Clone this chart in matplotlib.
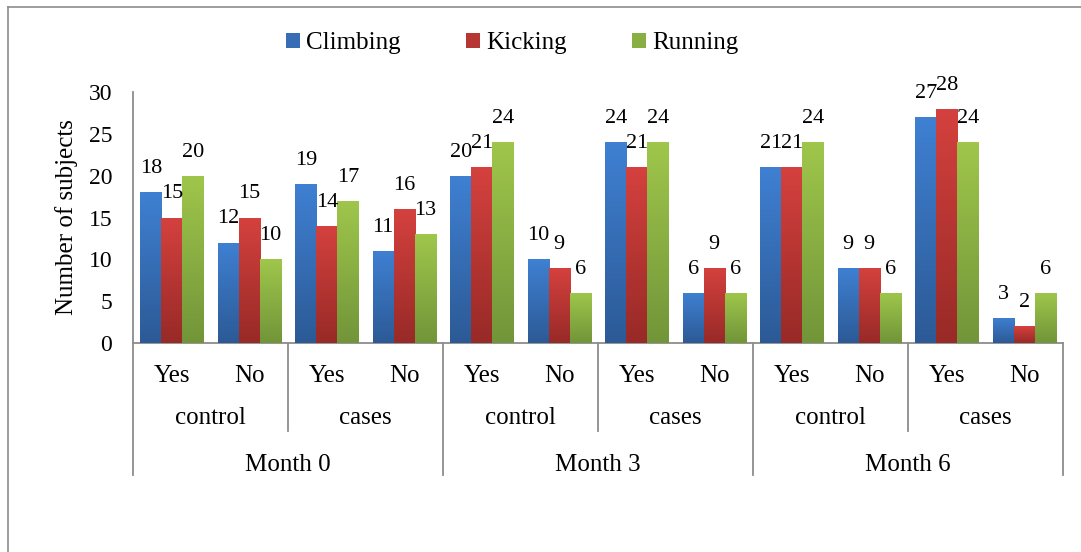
import matplotlib
matplotlib.use("Agg")
import matplotlib.pyplot as plt
import numpy as np
from matplotlib.colors import LinearSegmentedColormap
from matplotlib.patches import Patch
from matplotlib.lines import Line2D
import matplotlib.transforms as mtransforms

plt.rcParams['font.family'] = ['Liberation Serif', 'DejaVu Serif']

# data
answers = ["Yes", "No"] * 6
groups = ["control", "cases"] * 3
months = ["Month 0", "Month 3", "Month 6"]
series = ["Climbing", "Kicking", "Running"]
climbing = [18, 12, 19, 11, 20, 10, 24, 6, 21, 9, 27, 3]
kicking = [15, 15, 14, 16, 21, 9, 21, 9, 21, 9, 28, 2]
running = [20, 10, 17, 13, 24, 6, 24, 6, 24, 6, 24, 6]

# gradient colors (top, bottom)
grads = [("#3f80d2", "#2c5a96"), ("#d4413e", "#982a27"), ("#9fc64b", "#729539")]
axis_grey = "#8c8c8c"

fig = plt.figure(figsize=(10.81, 5.52), dpi=100)
W, H = 1081, 552
ax = fig.add_axes([133 / W, 1 - 343 / H, 930 / W, 251 / H])

bw = 0.271
x = np.arange(len(answers)) + 0.5
for k, vals in enumerate([climbing, kicking, running]):
    top, bot = grads[k]
    cmap = LinearSegmentedColormap.from_list("g%d" % k, [bot, top])
    bars = ax.bar(x + (k - 1) * bw, vals, width=bw, color=top, edgecolor="none", zorder=2)
    for b, v in zip(bars, vals):
        x0 = b.get_x()
        grad = np.linspace(0, 1, 64).reshape(-1, 1)
        im = ax.imshow(grad, cmap=cmap, origin="lower", aspect="auto",
                       extent=(x0, x0 + bw, 0, v), zorder=3, interpolation="bilinear")
        im.set_clip_path(b)
        ax.annotate(str(v), (x0 + bw / 2, v), xytext=(0, 17), textcoords="offset points",
                    ha="center", va="center", fontsize=16, zorder=4)

ax.set_xlim(0, 12)
ax.set_ylim(0, 30)
ax.set_yticks(range(0, 31, 5))
ax.tick_params(axis="y", length=0, pad=15, labelsize=17)
ax.set_xticks([])
for s in ["top", "right"]:
    ax.spines[s].set_visible(False)
for s in ["left", "bottom"]:
    ax.spines[s].set_color(axis_grey)
    ax.spines[s].set_linewidth(1.3)

ax.text(-66 / 930, 0.5, "Number of subjects", rotation=90, ha="center", va="center",
        fontsize=18, transform=ax.transAxes)

# multi-level category axis
trans = mtransforms.blended_transform_factory(ax.transData, ax.transAxes)
ph = 251.0
for xi in [0, 4, 8, 12]:
    ax.plot([xi, xi], [0, -132 / ph], color=axis_grey, lw=1.3, transform=trans, clip_on=False)
for xi in [2, 6, 10]:
    ax.plot([xi, xi], [0, -88 / ph], color=axis_grey, lw=1.3, transform=trans, clip_on=False)
for i, a in enumerate(answers):
    ax.text(i + 0.5, -33 / ph, a, ha="center", va="center", fontsize=18, transform=trans)
for i, g in enumerate(groups):
    ax.text(2 * i + 1, -75 / ph, g, ha="center", va="center", fontsize=18, transform=trans)
for i, m in enumerate(months):
    ax.text(4 * i + 2, -122 / ph, m, ha="center", va="center", fontsize=18, transform=trans)

# legend
handles = [Patch(facecolor=((0.5 * (int(t[1:3], 16) + int(b[1:3], 16)) / 255),
                            (0.5 * (int(t[3:5], 16) + int(b[3:5], 16)) / 255),
                            (0.5 * (int(t[5:7], 16) + int(b[5:7], 16)) / 255)),
                 edgecolor="none") for t, b in grads]
fig.legend(handles, series, loc="center", bbox_to_anchor=(512 / W, 1 - 43 / H), ncol=3,
           frameon=False, fontsize=18, handlelength=0.56, handleheight=0.56,
           handletextpad=0.25, columnspacing=2.6, borderpad=0)

# outer chart frame (only top and left edges are visible)
fig.add_artist(Line2D([8 / W, 8 / W], [0, 1 - 7 / H], color=axis_grey, lw=1.2))
fig.add_artist(Line2D([8 / W, 1], [1 - 7 / H, 1 - 7 / H], color=axis_grey, lw=1.2))

fig.savefig("out.png", dpi=100)
